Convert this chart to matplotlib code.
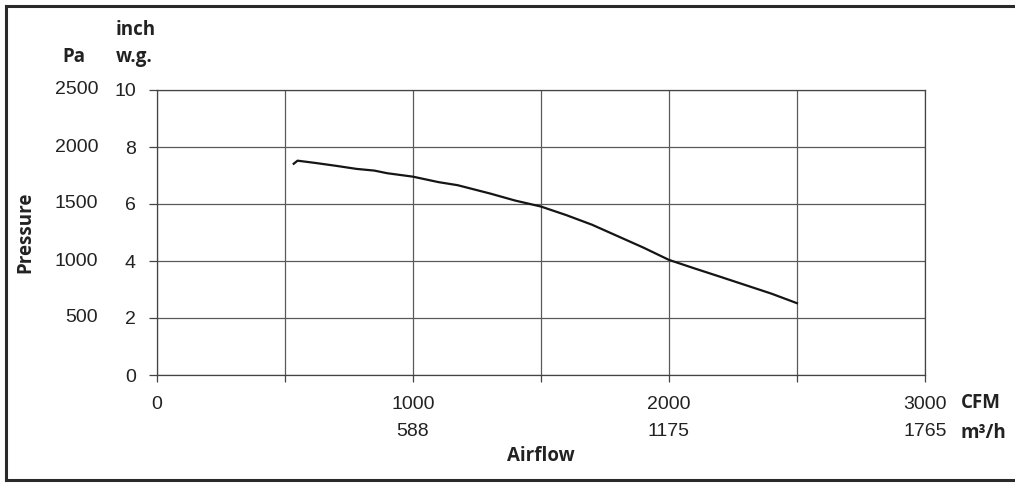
import matplotlib
matplotlib.use("Agg")
import matplotlib.pyplot as plt
from matplotlib.lines import Line2D
from matplotlib.transforms import blended_transform_factory

# ---- data ----
airflow_cfm = [535, 550, 620, 700, 780, 850, 900, 1000, 1100, 1175, 1300, 1400,
               1500, 1600, 1700, 1800, 1900, 2000, 2100, 2200, 2300, 2400, 2500]
pressure_pa = [1853, 1880, 1860, 1835, 1808, 1793, 1770, 1740, 1692, 1665, 1593, 1530,
               1478, 1402, 1318, 1218, 1118, 1010, 935, 862, 788, 714, 630]

x_grid_cfm = [0, 500, 1000, 1500, 2000, 2500, 3000]
x_labels_cfm = ["0", "", "1000", "", "2000", "", "3000"]
x_labels_m3h = ["", "", "588", "", "1175", "", "1765"]
y_ticks_pa = [0, 500, 1000, 1500, 2000, 2500]
y_labels_inch = ["0", "2", "4", "6", "8", "10"]
y_labels_pa = ["", "500", "1000", "1500", "2000", "2500"]

W, H = 1015, 483
fig = plt.figure(figsize=(W / 100, H / 100), dpi=100)
ax = fig.add_axes([156.7 / W, 1 - 375 / H, (925 - 156.7) / W, (375 - 90) / H])

num_font = "Liberation Sans"
bold_font = ["Open Sans", "DejaVu Sans"]
fs = 14
bfs = 13.5

ax.plot(airflow_cfm, pressure_pa, color="#151515", lw=1.6, solid_joinstyle="round")
ax.set_xlim(0, 3000)
ax.set_ylim(0, 2500)

ax.set_xticks(x_grid_cfm)
ax.set_xticklabels(x_labels_cfm, fontsize=fs, family=num_font, color="#222")
ax.set_yticks(y_ticks_pa)
ax.set_yticklabels(y_labels_inch, fontsize=fs, family=num_font, color="#222")
ax.tick_params(axis="x", length=5, width=0.9, color="#444", pad=10)
ax.tick_params(axis="y", length=6, width=0.9, color="#444", pad=9)
ax.grid(True, color="#5a5a5a", lw=0.9)
ax.set_axisbelow(True)
for s in ax.spines.values():
    s.set_color("#444")
    s.set_linewidth(0.9)

# second row of x labels (m3/h)
tx = blended_transform_factory(ax.transData, fig.transFigure)
for xv, lab in zip(x_grid_cfm, x_labels_m3h):
    if lab:
        ax.text(xv, 1 - 432 / H, lab, transform=tx, ha="center", va="center",
                fontsize=fs, family=num_font, color="#222")

# Pa labels
ty = blended_transform_factory(fig.transFigure, ax.transData)
for yv, lab in zip(y_ticks_pa, y_labels_pa):
    if lab:
        ax.text(98 / W, yv, lab, transform=ty, ha="right", va="center",
                fontsize=fs, family=num_font, color="#222")

def ftext(x, y, s, **kw):
    fig.text(x / W, 1 - y / H, s, fontsize=kw.pop("fontsize", bfs), family=bold_font,
             fontweight="bold", color="#222", **kw)

ftext(74, 57, "Pa", ha="center", va="center")
ftext(116, 30, "inch", ha="left", va="center")
ftext(116, 57, "w.g.", ha="left", va="center")
ftext(961, 403, "CFM", ha="left", va="center")
ftext(961, 433, "m³/h", ha="left", va="center")
ftext(541, 456, "Airflow", ha="center", va="center")
ftext(25, 232, "Pressure", ha="center", va="center", rotation=90)

# outer frame (left, top, bottom)
fc = "#2a2a2a"
lw = 2.2
fig.add_artist(Line2D([5.5 / W, 5.5 / W], [1 - 6 / H, 1 - 480 / H], transform=fig.transFigure, color=fc, lw=lw))
fig.add_artist(Line2D([5.5 / W, 1.0], [1 - 6 / H, 1 - 6 / H], transform=fig.transFigure, color=fc, lw=lw))
fig.add_artist(Line2D([5.5 / W, 1.0], [1 - 480 / H, 1 - 480 / H], transform=fig.transFigure, color=fc, lw=lw))

fig.savefig("out.png", dpi=100)
